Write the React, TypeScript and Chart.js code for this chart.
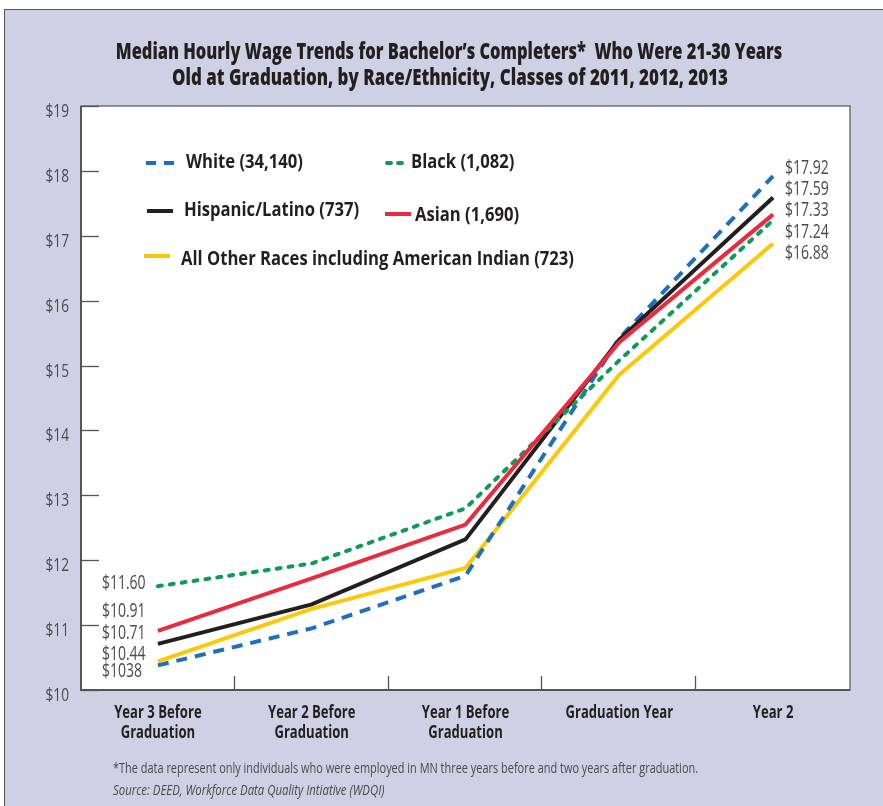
import React, { useEffect, useRef } from "react";
import { Chart, registerables } from "chart.js";

Chart.register(...registerables);

// Categories along the x axis
const categories: string[][] = [
  ["Year 3 Before", "Graduation"],
  ["Year 2 Before", "Graduation"],
  ["Year 1 Before", "Graduation"],
  ["Graduation Year"],
  ["Year 2"],
];

// Median hourly wage by race/ethnicity
const whiteWages = [10.38, 10.95, 11.76, 15.42, 17.92];
const blackWages = [11.6, 11.95, 12.8, 15.08, 17.24];
const hispanicWages = [10.71, 11.32, 12.32, 15.4, 17.59];
const asianWages = [10.91, 11.72, 12.55, 15.36, 17.33];
const otherWages = [10.44, 11.25, 11.88, 14.86, 16.88];

const seriesNames = [
  "White (34,140)",
  "Black (1,082)",
  "Hispanic/Latino (737)",
  "Asian (1,690)",
  "All Other Races including American Indian (723)",
];

// Value labels printed at the two ends of the lines
const startLabels = ["$11.60", "$10.91", "$10.71", "$10.44", "$1038"];
const endLabels = ["$17.92", "$17.59", "$17.33", "$17.24", "$16.88"];

const titleLines = [
  "Median Hourly Wage Trends for Bachelor’s Completers*\u00a0 Who Were 21-30 Years",
  "Old at Graduation, by Race/Ethnicity, Classes of 2011, 2012, 2013",
];

const yMin = 10;
const yMax = 19;

const FONT = '"Open Sans", "Noto Sans", "DejaVu Sans", sans-serif';
const TEXT_GREY = "#4a4a4a";
const AXIS_GREY = "#555555";
const PANEL_BG = "#cfd0e4";

const colors = {
  white: "#1f6fbf",
  black: "#109a57",
  hispanic: "#231f20",
  asian: "#ec2a3d",
  other: "#fdc80a",
};

// Legend entries: sample line and label placed inside the plot
const legendItems = [
  { name: seriesNames[0], color: colors.white, dash: [10, 8], x1: 146, x2: 176, y: 163, tx: 186, ty: 163 },
  { name: seriesNames[1], color: colors.black, dash: [4, 7], x1: 387, x2: 406, y: 163, tx: 411, ty: 163 },
  { name: seriesNames[2], color: colors.hispanic, dash: [], x1: 147, x2: 173, y: 211, tx: 184, ty: 211 },
  { name: seriesNames[3], color: colors.asian, dash: [], x1: 385, x2: 411, y: 214, tx: 415, ty: 216 },
  { name: seriesNames[4], color: colors.other, dash: [], x1: 144, x2: 170, y: 256, tx: 181, ty: 260 },
];

// Narrow text: draw with a horizontal squeeze
function narrowText(
  ctx: CanvasRenderingContext2D,
  text: string,
  x: number,
  y: number,
  font: string,
  color: string,
  align: CanvasTextAlign,
  sx: number
) {
  ctx.save();
  ctx.font = font;
  ctx.fillStyle = color;
  ctx.textAlign = align;
  ctx.textBaseline = "middle";
  ctx.translate(x, y);
  ctx.scale(sx, 1);
  ctx.fillText(text, 0, 0);
  ctx.restore();
}

const decorPlugin = {
  id: "decor",
  beforeDraw(chart: any) {
    const { ctx, chartArea: a } = chart;
    ctx.save();
    ctx.fillStyle = "#ffffff";
    ctx.fillRect(a.left, a.top, a.right - a.left, a.bottom - a.top);
    ctx.restore();
  },
  afterDraw(chart: any) {
    const { ctx, chartArea: a, scales } = chart;
    const ys = scales.y;
    const xs = scales.x;
    ctx.save();

    // title, two centred lines
    narrowText(ctx, titleLines[0], 449, 52, `800 23px ${FONT}`, "#231f20", "center", 0.715);
    narrowText(ctx, titleLines[1], 450, 78, `800 23px ${FONT}`, "#231f20", "center", 0.735);

    // frame around the plot
    ctx.strokeStyle = AXIS_GREY;
    ctx.lineWidth = 1.2;
    ctx.strokeRect(a.left, a.top, a.right - a.left, a.bottom - a.top);
    ctx.lineWidth = 2;
    ctx.beginPath();
    ctx.moveTo(a.left, a.top);
    ctx.lineTo(a.left, a.bottom);
    ctx.lineTo(a.right, a.bottom);
    ctx.stroke();

    // short inward ticks and labels on the value axis
    ctx.lineWidth = 1.3;
    ys.ticks.forEach((t: any) => {
      const y = Math.round(ys.getPixelForValue(t.value)) + 0.5;
      ctx.beginPath();
      ctx.moveTo(a.left, y);
      ctx.lineTo(a.left + 18, y);
      ctx.stroke();
      narrowText(ctx, "$" + t.value, a.left - 12, y + 5, `18px ${FONT}`, TEXT_GREY, "right", 0.76);
    });

    // short upward ticks between categories
    for (let i = 0; i < categories.length - 1; i++) {
      const x = Math.round((xs.getPixelForValue(i) + xs.getPixelForValue(i + 1)) / 2) - 0.5;
      ctx.beginPath();
      ctx.moveTo(x, a.bottom);
      ctx.lineTo(x, a.bottom - 14);
      ctx.stroke();
    }

    // category labels
    categories.forEach((lines, i) => {
      const x = xs.getPixelForValue(i);
      lines.forEach((ln, j) => {
        narrowText(ctx, ln, x, a.bottom + 23 + j * 20, `bold 17px ${FONT}`, "#231f20", "center", 0.77);
      });
    });

    // legend
    legendItems.forEach((it) => {
      ctx.strokeStyle = it.color;
      ctx.lineWidth = 4;
      ctx.lineCap = it.dash.length && it.dash[0] < 6 ? "round" : "butt";
      ctx.setLineDash(it.dash);
      ctx.beginPath();
      ctx.moveTo(it.x1, it.y);
      ctx.lineTo(it.x2, it.y);
      ctx.stroke();
      ctx.setLineDash([]);
      narrowText(ctx, it.name, it.tx, it.ty, `bold 19px ${FONT}`, "#231f20", "left", 0.875);
    });

    // end value labels
    const labelFont = `20px ${FONT}`;
    const lastX = xs.getPixelForValue(categories.length - 1);
    const topEnd = ys.getPixelForValue(whiteWages[4]) - 8;
    endLabels.forEach((t, i) => narrowText(ctx, t, lastX + 12, topEnd + i * 21.3, labelFont, TEXT_GREY, "left", 0.7));

    const firstX = xs.getPixelForValue(0);
    const startYs = [
      ys.getPixelForValue(blackWages[0]) - 3,
      ys.getPixelForValue(asianWages[0]) - 20,
      ys.getPixelForValue(hispanicWages[0]) - 11,
      ys.getPixelForValue(otherWages[0]) - 7,
      ys.getPixelForValue(whiteWages[0]) + 6,
    ];
    startLabels.forEach((t, i) => narrowText(ctx, t, firstX - 56, startYs[i], labelFont, TEXT_GREY, "left", 0.7));

    ctx.restore();
  },
};

export default function App() {
  const canvasRef = useRef<HTMLCanvasElement | null>(null);

  useEffect(() => {
    document.body.style.margin = "0";
    const canvas = canvasRef.current;
    if (!canvas) return;
    const mk = (label: string, data: number[], color: string, dash: number[], round = false, order = 0) => ({
      label,
      data,
      borderColor: color,
      backgroundColor: color,
      borderWidth: 4,
      borderDash: dash,
      borderCapStyle: round ? "round" : "butt",
      borderJoinStyle: "miter",
      pointRadius: 0,
      tension: 0,
      fill: false,
      order,
    });
    const chart = new Chart(canvas, {
      type: "line",
      data: {
        labels: categories.map((c) => c.join(" ")),
        datasets: [
          mk(seriesNames[3], asianWages, colors.asian, [], false, 0),
          mk(seriesNames[1], blackWages, colors.black, [4, 8], true, 1),
          mk(seriesNames[2], hispanicWages, colors.hispanic, [], false, 2),
          mk(seriesNames[0], whiteWages, colors.white, [11, 8], false, 3),
          mk(seriesNames[4], otherWages, colors.other, [], false, 4),
        ] as any,
      },
      options: {
        responsive: false,
        animation: false,
        devicePixelRatio: 1,
        layout: { padding: { top: 106, right: 33, left: 0, bottom: 0 } },
        plugins: {
          legend: { display: false },
          tooltip: { enabled: false },
          title: { display: false },
        },
        scales: {
          x: {
            type: "category",
            offset: true,
            grid: { display: false, offset: true },
            border: { display: false },
            ticks: { display: false, autoSkip: false },
            afterFit: (s: any) => {
              s.height = 116;
            },
          },
          y: {
            min: yMin,
            max: yMax,
            grid: { display: false },
            border: { display: false },
            ticks: { display: false, stepSize: 1 },
            afterFit: (s: any) => {
              s.width = 81;
            },
          },
        },
      } as any,
      plugins: [decorPlugin],
    });
    return () => chart.destroy();
  }, []);

  return (
    <div style={{ position: "relative", width: 883, height: 806, background: "#ffffff", overflow: "hidden" }}>
      <div
        style={{
          position: "absolute",
          left: 4,
          top: 9,
          width: 879,
          height: 797,
          background: PANEL_BG,
          borderTop: "1.5px solid #555",
          borderLeft: "1.5px solid #555",
        }}
      />
      <canvas ref={canvasRef} width={883} height={806} style={{ position: "absolute", left: 0, top: 0 }} />
      <div
        style={{
          position: "absolute",
          left: 113,
          top: 756,
          fontFamily: FONT,
          fontSize: 15,
          lineHeight: "22px",
          color: TEXT_GREY,
          transform: "scaleX(0.73)",
          transformOrigin: "0 0",
          whiteSpace: "nowrap",
        }}
      >
        <div>*The data represent only individuals who were employed in MN three years before and two years after graduation.</div>
        <div style={{ fontStyle: "italic", transform: "scaleX(1.04)", transformOrigin: "0 0" }}>
          Source: DEED, Workforce Data Quality Intiative (WDQI)
        </div>
      </div>
    </div>
  );
}
